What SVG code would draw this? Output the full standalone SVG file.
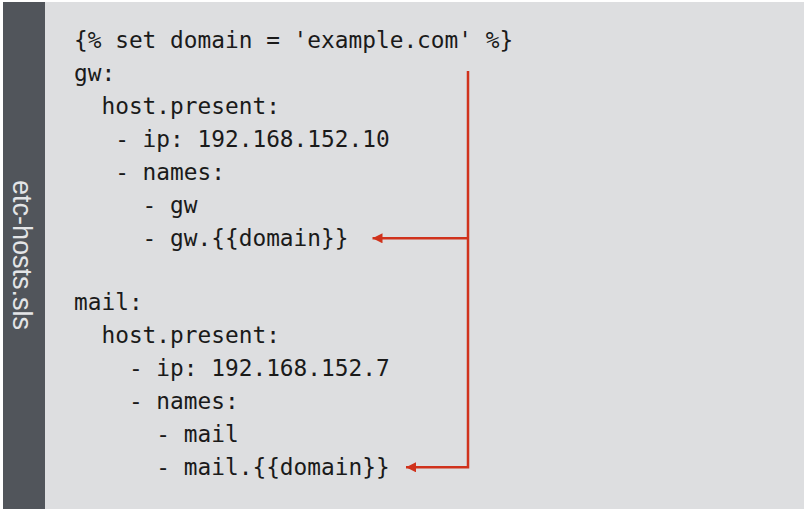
<svg xmlns="http://www.w3.org/2000/svg" width="810" height="514" viewBox="0 0 810 514">
<style>
.code{font-family:"DejaVu Sans Mono","Liberation Mono",monospace;font-size:22.8px;fill:#1a1a1a;white-space:pre}
.side{font-family:"Liberation Sans",Arial,sans-serif;font-size:27px;fill:#e4e5e7}
.conn{fill:none;stroke:#d0321c;stroke-width:2.5}
</style>
<defs>
<marker id="ah" viewBox="0 0 10 10" refX="10" refY="5" markerWidth="10" markerHeight="10" markerUnits="userSpaceOnUse" orient="auto">
<path d="M0,0 L10,5 L0,10 z" fill="#d0321c"/>
</marker>
</defs>
<rect x="0" y="0" width="810" height="514" fill="#ffffff"/>
<rect id="panel" x="3" y="2" width="801" height="507" fill="#dddee0"/>
<g id="sidebar">
<rect x="3" y="2" width="42" height="507" fill="#51555b"/>
<text class="side" transform="translate(12.5,255) rotate(90)" text-anchor="middle">etc-hosts.sls</text>
</g>
<g id="code">
<text class="code" x="74" y="48">{% set domain = 'example.com' %}</text>
<text class="code" x="74" y="81">gw:</text>
<text class="code" x="74" y="114">  host.present:</text>
<text class="code" x="74" y="147">   - ip: 192.168.152.10</text>
<text class="code" x="74" y="180">   - names:</text>
<text class="code" x="74" y="213">     - gw</text>
<text class="code" x="74" y="246">     - gw.{{domain}}</text>
<text class="code" x="74" y="310">mail:</text>
<text class="code" x="74" y="343">  host.present:</text>
<text class="code" x="74" y="376">    - ip: 192.168.152.7</text>
<text class="code" x="74" y="409">    - names:</text>
<text class="code" x="74" y="442">      - mail</text>
<text class="code" x="74" y="475">      - mail.{{domain}}</text>
</g>
<g id="connectors">
<path class="conn" d="M468,71 L468,467.3 L406,467.3" marker-end="url(#ah)"/>
<path class="conn" d="M468,238.3 L372.5,238.3" marker-end="url(#ah)"/>
</g>
</svg>
